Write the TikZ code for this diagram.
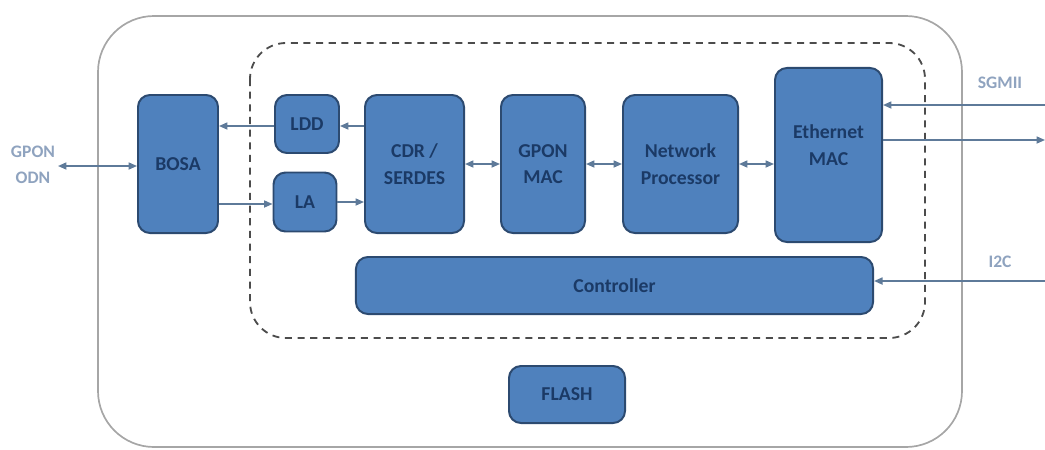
\documentclass[tikz,border=0pt]{standalone}
\usepackage{fontspec}
\setmainfont{Carlito}
\usetikzlibrary{arrows.meta}

\definecolor{boxfill}{HTML}{4F81BD}
\definecolor{boxline}{HTML}{2C4A70}
\definecolor{boxtext}{HTML}{1B3A66}
\definecolor{wire}{HTML}{5E7A99}
\definecolor{portlbl}{HTML}{8FA3BF}

\tikzset{
  block/.style={draw=boxline, line width=1.4pt, fill=boxfill, rounded corners=0.3cm,
    text=boxtext, align=center, inner sep=0pt,
    font=\bfseries\fontsize{14}{19}\selectfont},
  wire/.style={draw=wire, line width=1.1pt, -{Triangle[length=6pt,width=5pt]}},
  wire2/.style={wire, {Triangle[length=6pt,width=5pt]}-{Triangle[length=6pt,width=5pt]}},
  port/.style={text=portlbl, align=center, font=\bfseries\fontsize{12.5}{18.5}\selectfont}
}

\begin{document}
\begin{tikzpicture}[x=0.025cm, y=-0.025cm]
      \useasboundingbox (0,0) rectangle (1045,449);

      \draw[gray!70, line width=1.2pt, rounded corners=1.4cm] (98,16) rectangle (962,447);
      \draw[black!70, line width=1.3pt, dashed, dash pattern=on 5pt off 4pt, rounded corners=0.9cm] (250,43) rectangle (925,338);

      \node[block, minimum width=2cm, minimum height=3.45cm] (bosa) at (178,164) {BOSA};
      \node[block, minimum width=1.6cm, minimum height=1.45cm] (ldd) at (307,124) {LDD};
      \node[block, minimum width=1.575cm, minimum height=1.475cm] (la) at (305,202) {LA};
      \node[block, minimum width=2.475cm, minimum height=3.45cm] (cdr) at (414.5,164) {CDR /\\SERDES};
      \node[block, minimum width=2.1cm, minimum height=3.45cm] (gmac) at (543,164) {GPON\\MAC};
      \node[block, minimum width=2.875cm, minimum height=3.45cm] (np) at (680.5,164) {Network\\Processor};
      \node[block, minimum width=2.675cm, minimum height=4.35cm] (emac) at (828.5,155) {Ethernet\\MAC\\[-5pt]\mbox{}};
      \node[block, minimum width=12.925cm, minimum height=1.425cm] (ctrl) at (614.5,285.5) {Controller};
      \node[block, minimum width=2.9cm, minimum height=1.425cm] (flash) at (567,394.5) {FLASH};

      \node[port] (odnlbl) at (33,165) {GPON\\ODN};
      \node[port] (sgmiilbl) at (1000,83) {SGMII};
      \node[port] (i2clbl) at (1000,262) {I2C};

      \coordinate (odn) at (58,166);
      \coordinate (sgmiiin) at (1045,105);
      \coordinate (sgmiiout) at (1045,140);
      \coordinate (i2c) at (1045,281);
      \coordinate (lddy) at (0,126);
      \coordinate (lay) at (0,204);

      \draw[wire2] (odn) -- (odn -| bosa.west);
      \draw[wire] (ldd.west |- lddy) -- (bosa.east |- lddy);
      \draw[wire] (bosa.east |- lay) -- (la.west |- lay);
      \draw[wire] (cdr.west |- lddy) -- (ldd.east |- lddy);
      \draw[wire] (la.east |- 0,202) -- (cdr.west |- 0,202);
      \draw[wire2] (cdr.east |- 0,164) -- (gmac.west |- 0,164);
      \draw[wire2] (gmac.east |- 0,164) -- (np.west |- 0,164);
      \draw[wire2] (np.east |- 0,164) -- (emac.west |- 0,164);

      \draw[wire] (sgmiiin) -- (sgmiiin -| emac.east);
      \draw[wire] (sgmiiout -| emac.east) -- (sgmiiout);
      \draw[wire] (i2c) -- (i2c -| ctrl.east);
    \end{tikzpicture}
\end{document}
